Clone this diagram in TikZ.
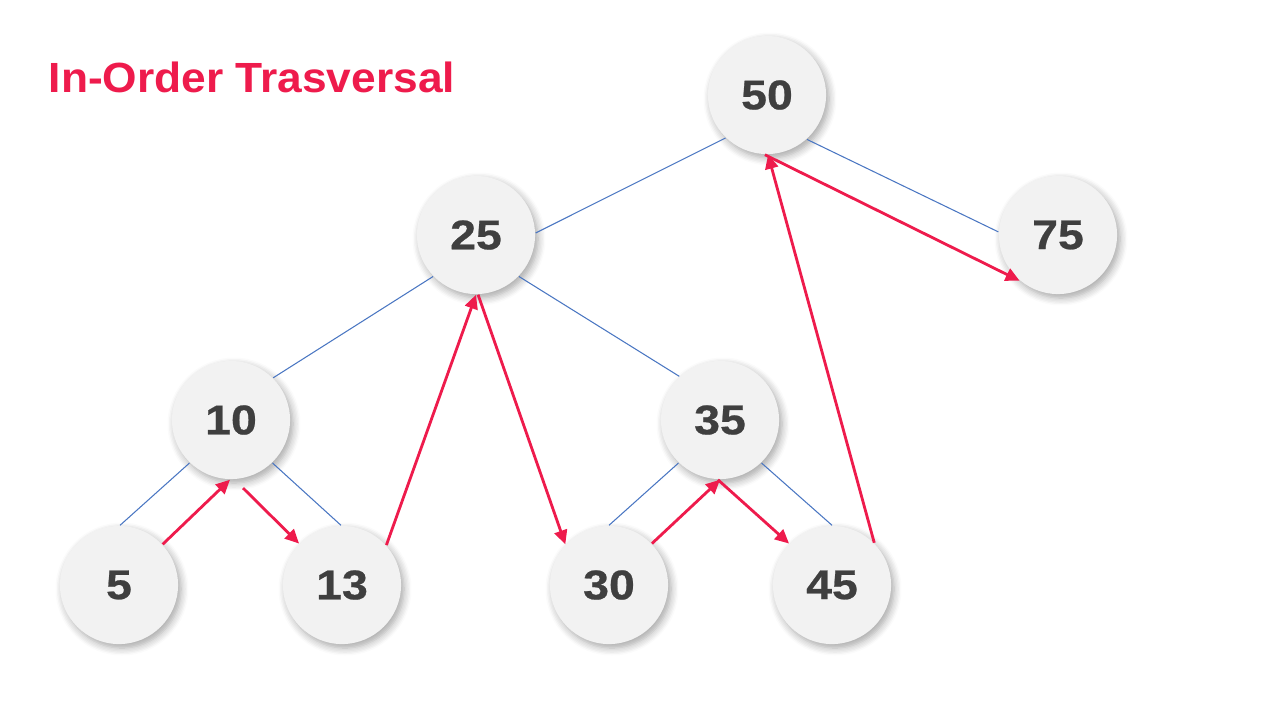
\documentclass[tikz,border=0pt]{standalone}
\usepackage{fontspec}
\setmainfont{Liberation Sans}
\newfontfamily\numfont[FakeStretch=1.12,FakeBold=0.6]{Liberation Sans}
\newfontfamily\titlefont[FakeStretch=1.05]{Liberation Sans}
\usetikzlibrary{arrows.meta,shadows.blur}
\definecolor{trred}{HTML}{EE1B4C}
\definecolor{edgeblue}{HTML}{4A76C2}
\definecolor{nodefill}{HTML}{F2F2F2}
\definecolor{numgray}{HTML}{3F3F3F}
\begin{document}
\begin{tikzpicture}[x=0.01cm,y=-0.01cm,
  treenode/.style={circle,minimum size=1.18cm,inner sep=0pt,fill=nodefill,
    blur shadow={shadow xshift=0.03cm,shadow yshift=-0.04cm,shadow blur steps=6,shadow opacity=35},
    font=\numfont\fontsize{11.8}{12}\selectfont\bfseries,text=numgray},
  treeedge/.style={draw=edgeblue,line width=0.3pt},
  walk/.style={draw=trred,line width=0.8pt,-{Triangle[length=0.14cm,width=0.13cm]}}]
\useasboundingbox (0,0) rectangle (1280,720);
\node[anchor=base west,text=trred,font=\titlefont\fontsize{12}{14}\selectfont\bfseries,inner sep=0pt] (title) at (48,92) {In-Order Trasversal};
\node[treenode] (n50) at (767,95) {50};
\node[treenode] (n25) at (476,235) {25};
\node[treenode] (n75) at (1058,235) {75};
\node[treenode] (n10) at (231,420) {10};
\node[treenode] (n35) at (720,420) {35};
\node[treenode] (n5) at (119,585) {5};
\node[treenode] (n13) at (342,585) {13};
\node[treenode] (n30) at (609,585) {30};
\node[treenode] (n45) at (832,585) {45};
\path[treeedge] (n50.226) -- (n25.2);
\path[treeedge] (n50.312) -- (n75.177);
\path[treeedge] (n25.224) -- (n10.45);
\path[treeedge] (n25.316) -- (n35.133);
\path[treeedge] (n10.226) -- (n5.89);
\path[treeedge] (n10.314) -- (n13.91);
\path[treeedge] (n35.226) -- (n30.90);
\path[treeedge] (n35.314) -- (n45.90);
\path[walk] (n5.43) -- (n10.269);
\path[walk] ([shift={(12,68)}]n10.center) -- (n13.136);
\path[walk] (n13.42) -- (n25.270);
\path[walk] (n25.272) -- (n30.137);
\path[walk] (n30.44) -- (n35.270);
\path[walk] (n35.268) -- (n45.136);
\path[walk] (n45.45) -- (n50.271);
\path[walk] (n50.268) -- (n75.230);
\end{tikzpicture}
\end{document}
